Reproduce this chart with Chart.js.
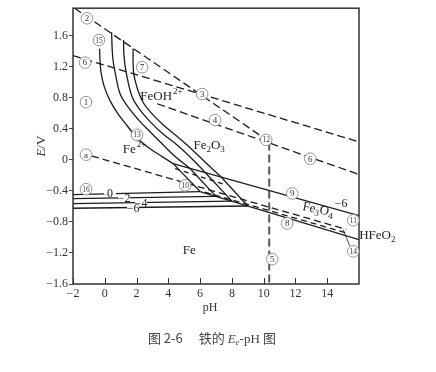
<!DOCTYPE html>
<html>
<head>
<meta charset="utf-8">
<script src="https://cdn.jsdelivr.net/npm/chart.js@4.4.1/dist/chart.umd.min.js"></script>
<style>
  html, body { margin: 0; padding: 0; background: #fff; }
  canvas { display: block; }
</style>
</head>
<body>
<canvas id="myChart" width="436" height="372"></canvas>
<script>
const xTicks = [-2, 0, 2, 4, 6, 8, 10, 12, 14];
const yTicks = [-1.6, -1.2, -0.8, -0.4, 0, 0.4, 0.8, 1.2, 1.6];

// Fe2+ / Fe(III) boundaries, log c = 0, -2, -4, -6 (left to right)
const curve0pH = [-0.33, -0.30, -0.24, -0.05, 0.33, 0.83, 1.40, 2.03, 2.85, 3.61, 4.30];
const curve0E  = [1.43, 1.28, 1.13, 0.95, 0.76, 0.59, 0.44, 0.28, 0.14, 0.04, -0.05];
const curve2pH = [0.43, 0.46, 0.52, 0.71, 0.96, 1.46, 2.22, 2.85, 3.48, 4.43, 5.35];
const curve2E  = [1.64, 1.45, 1.28, 1.06, 0.85, 0.68, 0.49, 0.36, 0.23, 0.04, -0.11];
const curve4pH = [1.18, 1.21, 1.34, 1.72, 2.22, 2.85, 3.67, 4.55, 5.50, 6.32];
const curve4E  = [1.54, 1.34, 1.13, 0.81, 0.64, 0.49, 0.33, 0.19, 0.01, -0.164];
const curve6pH = [1.78, 1.81, 2.03, 2.41, 2.98, 3.67, 4.43, 5.18, 6.31, 7.31];
const curve6E  = [1.43, 1.13, 0.93, 0.74, 0.59, 0.45, 0.32, 0.19, -0.03, -0.22];

// Fe / Fe2+ lines, and where they meet the Fe3O4 band
const feLeftE = [-0.45, -0.50, -0.565, -0.625];
const lowPH   = [6.0, 7.0, 8.0, 9.0];
const lowE    = [-0.41, -0.472, -0.534, -0.596];
const highPH  = [4.30, 5.35, 6.32, 7.31];
const highE   = [-0.05, -0.11, -0.164, -0.22];

// Fe3O4 band: line 9 (top) and line 8 (bottom)
const band9pH = [4.30, 16], band9E = [-0.05, -0.72];
const band8pH = [6.0, 16],  band8E = [-0.41, -1.03];

// dashed lines
const o2pH = [-2, 16],        o2E = [1.34, 0.23];
const line2pH = [-1.9, 10.15], line2E = [1.95, 0.26];
const line4pH = [3.3, 16],     line4E = [0.72, -0.19];
const h2pH = [-0.8, 15.2],     h2E = [0.047, -0.897];
const h2bPH = [6.3, 15.2],     h2bE = [-0.417, -0.942];
const innerPH = [4.43, 7.57],  innerE = [-0.115, -0.32];
const line5pH = [10.35, 10.35], line5E = [0.22, -1.6];
const leaderPH = [15.0, 15.42], leaderE = [-0.90, -1.11];

const circled = [
  ['2', -1.12, 1.82], ['15', -0.36, 1.54], ['6', -1.24, 1.25], ['7', 2.35, 1.19],
  ['1', -1.18, 0.74], ['3', 6.13, 0.845], ['4', 6.94, 0.51], ['13', 2.03, 0.32],
  ['12', 10.16, 0.256], ['6', 12.93, 0.013], ['a', -1.18, 0.064], ['16', -1.18, -0.38],
  ['10', 5.06, -0.33], ['9', 11.8, -0.435], ['8', 11.48, -0.82], ['11', 15.64, -0.78],
  ['14', 15.64, -1.18], ['5', 10.54, -1.28]
];
const species = [
  [[['FeOH', 0], ['2+', 1]], 3.54, 0.83, 0],
  [[['Fe', 0], ['2+', 1]], 1.84, 0.15, 0],
  [[['Fe', 0], ['2', -1], ['O', 0], ['3', -1]], 6.57, 0.19, 0],
  [[['Fe', 0], ['3', -1], ['O', 0], ['4', -1]], 13.43, -0.63, 0.2],
  [[['Fe', 0]], 5.31, -1.15, 0],
  [[['HFeO', 0], ['2', -1]], 17.15, -0.96, 0]
];
const concLabels = [
  ['0', 0.33, -0.43], ['−2', 1.21, -0.49], ['−4', 2.28, -0.55], ['−6', 1.78, -0.62]
];

const line = (xs, ys, dash, extra) => Object.assign({
  data: xs.map((x, i) => ({ x: x, y: ys[i] })),
  showLine: true, pointRadius: 0, borderColor: '#1c1c1c', borderWidth: 1.3,
  borderDash: dash || [], tension: 0, fill: false
}, extra || {});

const datasets = [
  line(curve0pH, curve0E, null, { tension: 0.35 }),
  line(curve2pH, curve2E, null, { tension: 0.35 }),
  line(curve4pH, curve4E, null, { tension: 0.35 }),
  line(curve6pH, curve6E, null, { tension: 0.35 }),
  line(band9pH, band9E),
  line(band8pH, band8E),
  line(o2pH, o2E, [8, 4]),
  line(line2pH, line2E, [8, 4]),
  line(line4pH, line4E, [8, 4]),
  line(h2pH, h2E, [7, 4]),
  line(h2bPH, h2bE, [6, 4]),
  line(innerPH, innerE, [5, 4]),
  line(line5pH, line5E, [8, 4], { borderColor: '#555', borderWidth: 2 }),
  line(leaderPH, leaderE, null, { borderWidth: 0.8 })
];
for (let i = 0; i < 4; i++) {
  datasets.push(line([-2, lowPH[i]], [feLeftE[i], lowE[i]]));
  datasets.push(line([highPH[i], lowPH[i]], [highE[i], lowE[i]]));
}

const serif = '"Liberation Serif", "Times New Roman", serif';
const cjk = '"Noto Sans CJK SC", sans-serif';

function drawRich(ctx, parts, x, y, size, family) {
  const fam = family || serif;
  const fonts = parts.map(p => (p[2] || '') + ' ' + (p[1] ? Math.round(size * 0.7) : size) + 'px ' + (p[3] || fam));
  let w = 0;
  const ws = parts.map((p, i) => { ctx.font = fonts[i]; const m = ctx.measureText(p[0]).width; w += m; return m; });
  let cx = x - w / 2;
  ctx.textAlign = 'left';
  ctx.textBaseline = 'alphabetic';
  parts.forEach((p, i) => {
    ctx.font = fonts[i];
    const dy = p[1] > 0 ? -size * 0.45 : p[1] < 0 ? size * 0.22 : 0;
    ctx.fillText(p[0], cx + (p[1] > 0 ? 1 : 0), y + size * 0.35 + dy);
    cx += ws[i];
  });
}

const decor = {
  id: 'decor',
  afterDatasetsDraw(chart) {
    const ctx = chart.ctx, a = chart.chartArea;
    const xs = chart.scales.x, ys = chart.scales.y;
    ctx.save();
    // frame
    ctx.strokeStyle = '#333';
    ctx.lineWidth = 1.5;
    ctx.strokeRect(a.left, a.top, a.right - a.left, a.bottom - a.top);
    // inner x ticks
    ctx.lineWidth = 1;
    xTicks.forEach(v => {
      const px = Math.round(xs.getPixelForValue(v)) + 0.5;
      ctx.beginPath(); ctx.moveTo(px, a.bottom); ctx.lineTo(px, a.bottom - 6); ctx.stroke();
    });
    // concentration labels on Fe/Fe2+ lines
    ctx.fillStyle = '#fff';
    concLabels.forEach(l => {
      const px = xs.getPixelForValue(l[1]), py = ys.getPixelForValue(l[2]);
      ctx.fillRect(px - 6, py - 1.5, 12, 3);
    });
    ctx.fillStyle = '#222';
    concLabels.forEach(l => {
      drawRich(ctx, [[l[0], 0]], xs.getPixelForValue(l[1]), ys.getPixelForValue(l[2]), 12);
    });
    drawRich(ctx, [['−6', 0]], xs.getPixelForValue(14.88), ys.getPixelForValue(-0.56), 12);
    // species
    species.forEach(s => {
      const px = xs.getPixelForValue(s[1]), py = ys.getPixelForValue(s[2]);
      ctx.save();
      ctx.translate(px, py);
      ctx.rotate(s[3]);
      ctx.fillStyle = '#222';
      drawRich(ctx, s[0], 0, 0, 13);
      ctx.restore();
    });
    // circled numbers
    circled.forEach(c => {
      const px = xs.getPixelForValue(c[1]), py = ys.getPixelForValue(c[2]);
      ctx.beginPath();
      ctx.arc(px, py, 5.8, 0, Math.PI * 2);
      ctx.fillStyle = '#fff';
      ctx.fill();
      ctx.strokeStyle = '#8a8a8a';
      ctx.lineWidth = 0.9;
      ctx.stroke();
      ctx.fillStyle = '#333';
      ctx.font = (c[0].length > 1 ? 7.5 : 9) + 'px ' + serif;
      ctx.textAlign = 'center';
      ctx.textBaseline = 'middle';
      ctx.fillText(c[0], px, py + 0.5);
    });
    // axis titles and caption
    ctx.fillStyle = '#333';
    drawRich(ctx, [['pH', 0]], (a.left + a.right) / 2 - 6, a.bottom + 23, 12);
    ctx.save();
    ctx.translate(40, (a.top + a.bottom) / 2);
    ctx.rotate(-Math.PI / 2);
    drawRich(ctx, [['E', 0, 'italic'], ['/V', 0]], 0, 0, 13);
    ctx.restore();
    ctx.fillStyle = '#444';
    drawRich(ctx, [
      ['图 2-6', 0, '', cjk], ['　 ', 0, '', cjk], ['铁的 ', 0, '', cjk],
      ['E', 0, 'italic'], ['e', -1, 'italic'], ['-pH ', 0], ['图', 0, '', cjk]
    ], 212, 338, 13);
    ctx.restore();
  }
};

const fmt = v => (v < 0 ? '−' : '') + String(Math.abs(Number(v.toFixed(1))));

new Chart(document.getElementById('myChart'), {
  type: 'scatter',
  data: { datasets: datasets },
  options: {
    responsive: false,
    animation: false,
    events: [],
    layout: { padding: { left: 0, right: 77, top: 6, bottom: 0 } },
    plugins: { legend: { display: false }, tooltip: { enabled: false } },
    scales: {
      x: {
        type: 'linear', min: -2, max: 16,
        afterBuildTicks: s => { s.ticks = xTicks.map(v => ({ value: v })); },
        afterFit: s => { s.height = 88; },
        grid: { display: false, drawTicks: false },
        border: { display: false },
        ticks: { padding: 3, color: '#333', font: { family: serif, size: 12 }, callback: fmt, maxRotation: 0 }
      },
      y: {
        type: 'linear', min: -1.6, max: 1.95,
        afterBuildTicks: s => { s.ticks = yTicks.map(v => ({ value: v })); },
        afterFit: s => { s.width = 73; },
        grid: { drawOnChartArea: false, tickLength: 4, color: '#444' },
        border: { display: false },
        ticks: { padding: 1, color: '#333', font: { family: serif, size: 12 }, callback: fmt }
      }
    }
  },
  plugins: [decor]
});
</script>
</body>
</html>
